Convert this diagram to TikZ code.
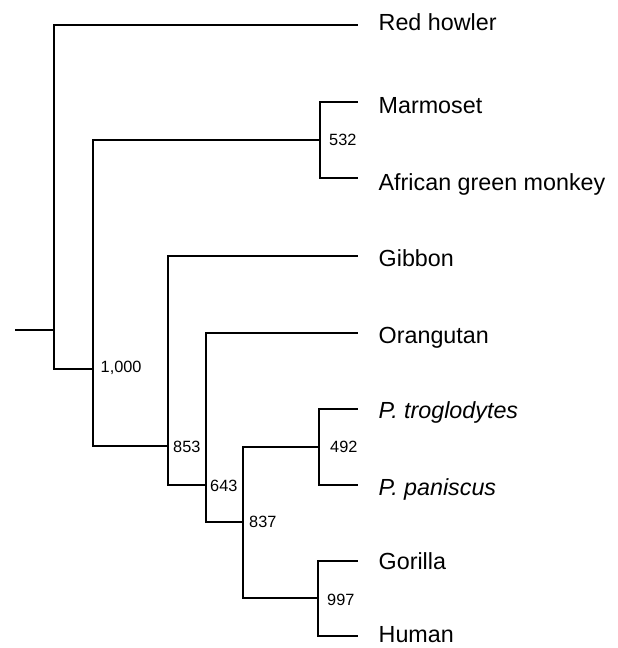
\documentclass[tikz,border=0pt]{standalone}
\usepackage{fontspec}
\setmainfont{Liberation Sans}
\begin{document}
\begin{tikzpicture}[x=1pt,y=-1pt,
  branch/.style={line width=2pt,line join=miter},
  leaflabel/.style={anchor=base west,inner sep=0pt,font=\fontsize{23.3}{27}\selectfont},
  support/.style={anchor=west,inner sep=0pt,font=\fontsize{16.3}{19}\selectfont}]
\useasboundingbox (0,0) rectangle (618,648);
% internal nodes
\coordinate (rs) at (15,330);
\coordinate (r) at (54,330);
\coordinate (n1000) at (92.5,369);
\coordinate (n532) at (320,139.5);
\coordinate (n853) at (167.5,446);
\coordinate (n643) at (206,485);
\coordinate (n837) at (243,522);
\coordinate (n492) at (318.5,447);
\coordinate (n997) at (317.5,598);
% leaf ends
\coordinate (lRH) at (358,24.5);
\coordinate (lMa) at (358,102.3);
\coordinate (lAG) at (358,178.3);
\coordinate (lGi) at (358,256);
\coordinate (lOr) at (358,333);
\coordinate (lPt) at (358,409.3);
\coordinate (lPp) at (358,485);
\coordinate (lGo) at (358,560.7);
\coordinate (lHu) at (358,636);
% branches
\draw[branch] (rs) -- (r);
\draw[branch] (r) |- (lRH);
\draw[branch] (r) |- (n1000);
\draw[branch] (n1000) |- (n532);
\draw[branch] (n1000) |- (n853);
\draw[branch] (n532) |- (lMa);
\draw[branch] (n532) |- (lAG);
\draw[branch] (n853) |- (lGi);
\draw[branch] (n853) |- (n643);
\draw[branch] (n643) |- (lOr);
\draw[branch] (n643) |- (n837);
\draw[branch] (n837) |- (n492);
\draw[branch] (n837) |- (n997);
\draw[branch] (n492) |- (lPt);
\draw[branch] (n492) |- (lPp);
\draw[branch] (n997) |- (lGo);
\draw[branch] (n997) |- (lHu);
% leaf labels
\node[leaflabel] (tRH) at (378.5,30) {Red howler};
\node[leaflabel] (tMa) at (378.5,113) {Marmoset};
\node[leaflabel] (tAG) at (378.5,190) {African green monkey};
\node[leaflabel] (tGi) at (378.5,266) {Gibbon};
\node[leaflabel] (tOr) at (378.5,343) {Orangutan};
\node[leaflabel] (tPt) at (378.5,418.5) {\itshape P. troglodytes};
\node[leaflabel] (tPp) at (378.5,495) {\itshape P. paniscus};
\node[leaflabel] (tGo) at (378.5,569) {Gorilla};
\node[leaflabel] (tHu) at (378.5,642.5) {Human};
% support values
\node[support] (s532) at (329,140) {532};
\node[support] (s1000) at (100.5,368) {1,000};
\node[support] (s853) at (173,447) {853};
\node[support] (s643) at (210,486) {643};
\node[support] (s837) at (249,522) {837};
\node[support] (s492) at (330,447) {492};
\node[support] (s997) at (327,600) {997};
\end{tikzpicture}
\end{document}
